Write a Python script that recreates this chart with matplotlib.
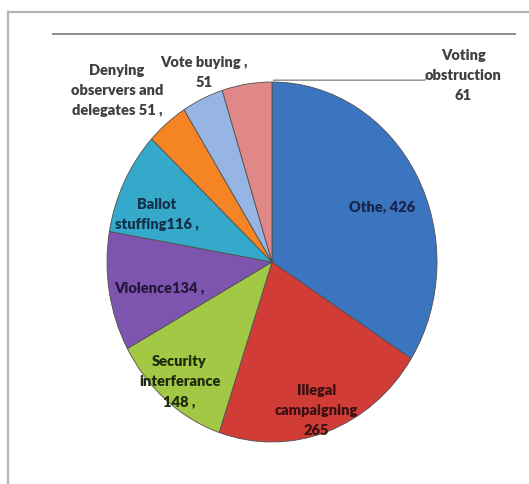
import matplotlib

matplotlib.use("Agg")
import matplotlib.pyplot as plt
from matplotlib.lines import Line2D

# Reported incidents by type
categories = [
    "Othe",
    "Illegal campaigning",
    "Security interferance",
    "Violence",
    "Ballot stuffing",
    "Denying observers and delegates",
    "Vote buying",
    "Voting obstruction",
]
counts = [426, 265, 148, 134, 116, 51, 51, 61]
colors = ["#3b74bf", "#d23c37", "#a2c845", "#7d55ae",
          "#34a9c9", "#f58424", "#97b5e3", "#e08787"]

labels = [
    f"{categories[0]}, {counts[0]}",
    f"Illegal\ncampaigning\n{counts[1]}",
    f"Security\ninterferance\n{counts[2]} ,",
    f"{categories[3]}{counts[3]} ,",
    f"Ballot\nstuffing{counts[4]} ,",
    f"Denying\nobservers and\ndelegates {counts[5]} ,",
    f"Vote buying ,\n{counts[6]}",
    f"Voting\nobstruction\n{counts[7]}",
]
label_xy = [(0.67, 0.31), (0.27, -0.82), (-0.56, -0.66), (-0.68, -0.14),
            (-0.70, 0.27), (-0.94, 0.96), (-0.41, 1.06), (1.16, 1.04)]
label_colors = ["#1a2448", "#3a1010", "#1f2a10", "#24183a",
                "#15304a", "#404040", "#404040", "#404040"]

W, H = 529, 485
fig = plt.figure(figsize=(W / 100, H / 100), dpi=100)
fig.patch.set_facecolor("white")

# frame lines of the chart area
fig.add_artist(Line2D([8 / W, 8 / W], [0, 1 - 13 / H], color="#b4b4b4", lw=1.6))
fig.add_artist(Line2D([8 / W, 1], [1 - 13 / H, 1 - 13 / H], color="#b4b4b4", lw=1.6))
fig.add_artist(Line2D([53 / W, 515 / W], [1 - 35 / H, 1 - 35 / H], color="#8c8c8c", lw=1.4))

# pie is slightly taller than wide
ax = fig.add_axes([107 / W, 1 - 443 / H, 330 / W, 360 / H])
ax.pie(
    counts,
    colors=colors,
    startangle=90,
    counterclock=False,
    radius=1.0,
    wedgeprops=dict(edgecolor="#505050", linewidth=0.6),
)
ax.set_aspect("auto")
ax.set_xlim(-1, 1)
ax.set_ylim(-1, 1)
ax.axis("off")

for text, (x, y), c in zip(labels, label_xy, label_colors):
    ax.text(x, y, text, ha="center", va="center", color=c, fontsize=10.5,
            fontweight="heavy", family=["Lato", "DejaVu Sans"],
            linespacing=1.65, clip_on=False)

# leader line for the voting obstruction label
ax.plot([0.01, 0.925, 0.945], [1.01, 1.01, 1.03], color="#8c8c8c", lw=1.0,
        clip_on=False)

fig.savefig("out.png", dpi=100, facecolor="white")
